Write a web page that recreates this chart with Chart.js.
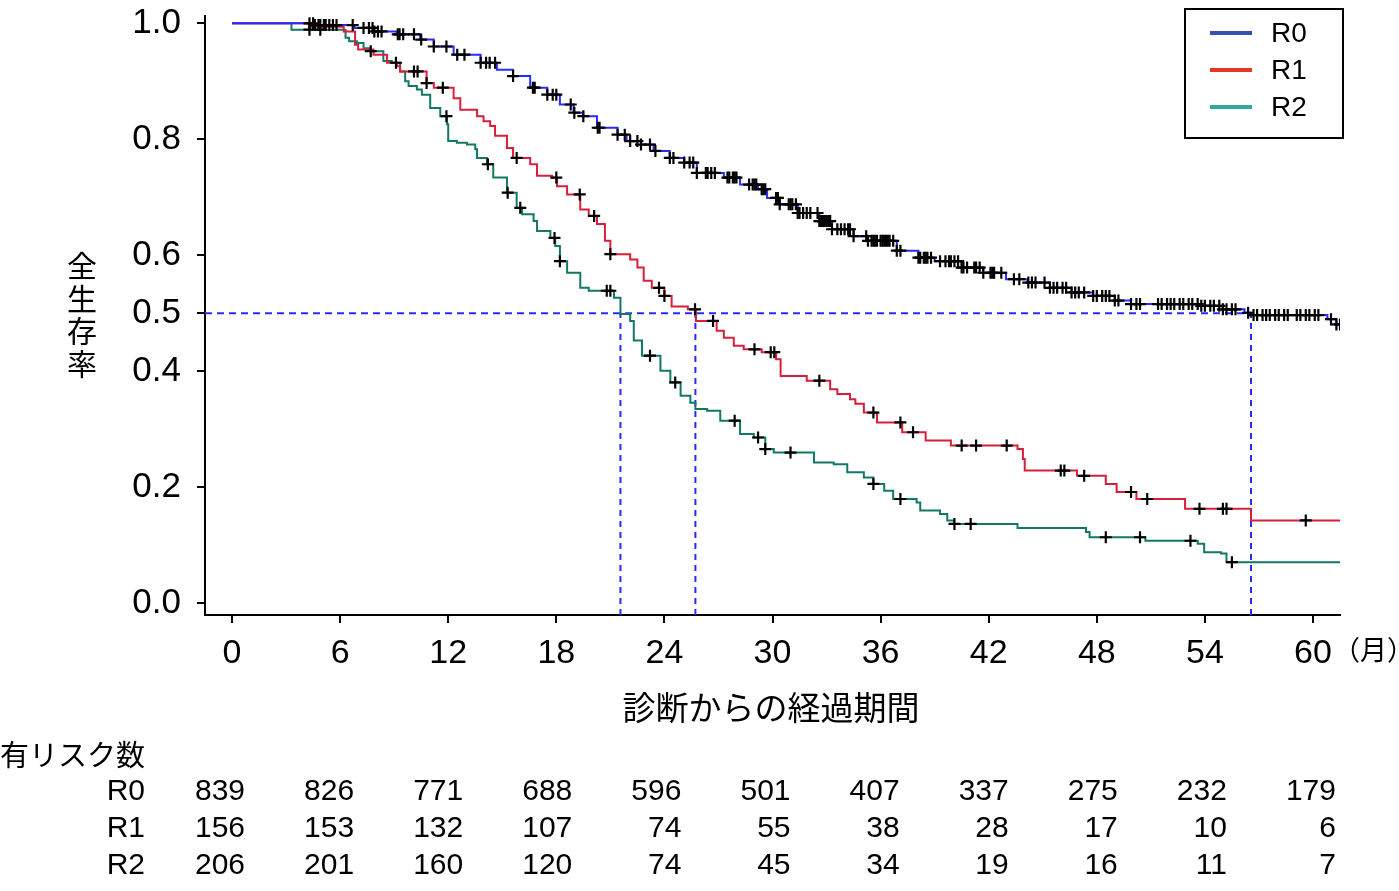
<!DOCTYPE html>
<html lang="ja">
<head>
<meta charset="utf-8">
<title>全生存率</title>
<script src="https://cdn.jsdelivr.net/npm/chart.js@4.4.1/dist/chart.umd.min.js"></script>
<style>
  html, body { margin: 0; padding: 0; background: #fff; }
  #wrap { width: 1399px; height: 891px; position: relative; }
</style>
</head>
<body>
<div id="wrap"><canvas id="kmChart"></canvas></div>
<script>
// --- データ ---
const groups = ['R0', 'R1', 'R2'];
const monthTicks = [0, 6, 12, 18, 24, 30, 36, 42, 48, 54, 60];
const survTicks = [0, 0.2, 0.4, 0.5, 0.6, 0.8, 1.0];
const followUpEnd = 61.5;

// 生存曲線（イベント時点, 生存率）
const r0Time = [0, 4.6, 6.8, 7.85, 9.15, 10.44, 11.2, 12.3, 13.8, 14.7, 15.6, 16.55, 17.5, 18.2, 18.96,
  19.5, 20.26, 21.4, 21.9, 22.7, 23.4, 24.3, 25.1, 25.8, 27.3, 28.2, 29.2, 29.7, 30.4, 31.4, 32.6,
  33.3, 34.5, 35.3, 36.9, 38.1, 39.0, 40.5, 41.7, 42.96, 44.15, 45.4, 46.6, 47.8, 49.0, 49.9, 53.8,
  55.0, 56.2, 56.56, 60.8, 61.3];
const r0Surv = [1.0, 0.997, 0.992, 0.986, 0.981, 0.972, 0.960, 0.946, 0.932, 0.920, 0.909, 0.889, 0.877, 0.860, 0.846,
  0.840, 0.820, 0.808, 0.797, 0.791, 0.780, 0.768, 0.760, 0.742, 0.734, 0.722, 0.714, 0.699, 0.688, 0.673, 0.659,
  0.645, 0.633, 0.625, 0.608, 0.596, 0.590, 0.579, 0.570, 0.559, 0.553, 0.544, 0.536, 0.530, 0.522, 0.516, 0.513,
  0.507, 0.501, 0.497, 0.490, 0.481];

const r1Time = [0, 4.3, 6.2, 6.83, 7.0, 7.85, 8.6, 9.15, 9.33, 10.8, 11.2, 12.3, 12.67, 13.6, 13.96, 14.33,
  14.6, 15.26, 15.6, 16.55, 16.93, 17.76, 18.04, 18.6, 19.33, 19.8, 20.26, 20.7, 21.0, 22.1, 22.5, 22.85,
  23.3, 24.0, 24.4, 25.3, 25.75, 26.9, 27.3, 27.85, 28.4, 29.4, 30.2, 30.45, 31.9, 33.2, 33.6, 34.3,
  34.6, 35.07, 35.8, 37.2, 38.5, 39.9, 43.6, 43.9, 44.0, 46.9, 48.5, 49.1, 50.2, 52.9, 56.56];
const r1Surv = [1.0, 0.994, 0.986, 0.963, 0.955, 0.946, 0.932, 0.926, 0.917, 0.897, 0.889, 0.871, 0.851, 0.840, 0.831, 0.823,
  0.806, 0.785, 0.768, 0.757, 0.737, 0.734, 0.719, 0.705, 0.679, 0.668, 0.654, 0.625, 0.602, 0.593, 0.579, 0.556,
  0.544, 0.530, 0.512, 0.507, 0.487, 0.470, 0.458, 0.444, 0.438, 0.433, 0.421, 0.392, 0.384, 0.369, 0.361, 0.352,
  0.344, 0.329, 0.312, 0.295, 0.281, 0.272, 0.266, 0.249, 0.229, 0.220, 0.206, 0.192, 0.180, 0.163, 0.143];

const r2Time = [0, 3.3, 6.3, 6.5, 6.93, 7.3, 7.67, 8.4, 8.87, 9.33, 9.61, 9.8, 10.26, 10.54, 11.0, 11.56,
  11.93, 12.0, 12.48, 13.04, 13.5, 13.6, 14.15, 14.5, 15.26, 15.8, 16.1, 16.74, 16.93, 17.67, 17.94, 18.2,
  18.6, 19.33, 19.8, 21.2, 21.56, 22.1, 22.3, 22.76, 23.78, 24.33, 24.9, 25.44, 25.72, 26.37, 27.1, 28.2,
  28.96, 29.6, 30.07, 32.3, 33.4, 34.15, 35.07, 35.6, 36.2, 36.7, 38.0, 38.2, 39.3, 39.7, 40.07, 43.6,
  47.4, 47.6, 50.7, 53.6, 53.96, 54.9, 55.2];
const r2Surv = [1.0, 0.989, 0.975, 0.969, 0.966, 0.957, 0.952, 0.935, 0.932, 0.917, 0.900, 0.892, 0.886, 0.877, 0.854, 0.840,
  0.826, 0.797, 0.794, 0.791, 0.783, 0.768, 0.757, 0.734, 0.708, 0.682, 0.671, 0.659, 0.642, 0.630, 0.616, 0.590,
  0.570, 0.544, 0.539, 0.527, 0.499, 0.487, 0.453, 0.427, 0.401, 0.381, 0.358, 0.346, 0.335, 0.332, 0.315, 0.292,
  0.286, 0.266, 0.260, 0.243, 0.240, 0.226, 0.217, 0.206, 0.194, 0.180, 0.174, 0.160, 0.154, 0.143, 0.137, 0.130,
  0.123, 0.114, 0.108, 0.103, 0.088, 0.086, 0.071];

// 打ち切り時点
const r0Censor = [4.3, 4.5, 4.6, 4.8, 4.9, 5.1, 5.2, 5.4, 5.6, 5.8, 6.7, 7.3, 7.6, 7.8, 7.9, 8.1, 8.3,
  9.2, 9.3, 9.5, 10.1, 10.5, 11.2, 11.9, 12.5, 12.9, 13.8, 14.1, 14.3, 14.6, 15.6, 16.7, 16.8,
  17.5, 17.8, 18.0, 18.8, 19.0, 19.5, 20.3, 20.4, 21.4, 21.8, 22.1, 22.5, 22.7, 23.2, 23.5,
  24.3, 24.5, 25.1, 25.4, 25.6, 25.8, 26.3, 26.4, 26.6, 26.8, 27.5, 27.6, 27.8, 27.9, 28.0,
  28.7, 28.9, 29.0, 29.1, 29.4, 29.5, 29.6, 30.2, 30.3, 30.4, 30.9, 31.0, 31.1, 31.3, 31.4,
  31.5, 31.7, 31.9, 32.1, 32.5, 32.6, 32.7, 32.8, 32.9, 33.0, 33.1, 33.2, 33.3, 33.6, 33.8,
  34.0, 34.2, 34.3, 34.5, 35.2, 35.3, 35.5, 35.6, 35.7, 35.8, 36.0, 36.1, 36.2, 36.3, 36.4,
  36.5, 36.7, 36.9, 37.1, 38.1, 38.2, 38.4, 38.5, 38.6, 38.8, 39.3, 39.6, 39.8, 39.9, 40.1,
  40.3, 40.5, 40.6, 40.8, 41.2, 41.3, 41.5, 41.7, 42.1, 42.2, 42.3, 42.7, 43.4, 43.7,
  44.2, 44.4, 44.6, 45.1, 45.4, 45.6, 45.8, 46.1, 46.3, 46.6, 46.8, 47.0, 47.3, 47.8, 48.0, 48.3,
  48.5, 48.7, 49.0, 49.2, 49.9, 50.2, 50.4, 51.4, 51.6, 51.9, 52.1, 52.3, 52.6, 52.8, 53.1, 53.3,
  53.6, 53.8, 54.0, 54.3, 54.5, 54.8, 55.0, 55.2, 55.5, 55.7, 56.4, 56.7, 56.9, 57.2, 57.4, 57.6,
  57.9, 58.1, 58.4, 58.6, 59.1, 59.3, 59.6, 59.8, 60.1, 60.3, 61.0, 61.3, 61.5];
const r1Censor = [10.1, 10.3, 10.8, 11.7, 15.8, 18.0, 19.3, 20.1, 21.0, 23.7, 24.0, 25.7, 26.7, 29.0,
  29.9, 30.1, 32.6, 35.6, 37.1, 37.8, 40.5, 41.3, 43.0, 46.0, 46.2, 47.3, 49.9, 50.8, 53.7, 55.0, 55.2, 59.6];
const r2Censor = [4.3, 4.9, 7.7, 9.1, 11.9, 14.2, 15.3, 16.0, 17.9, 18.2, 20.8, 21.0, 23.2, 24.6, 27.9,
  29.2, 29.6, 31.0, 35.6, 37.1, 40.1, 41.0, 48.5, 50.4, 53.2, 55.5];

// 生存期間中央値（R2, R1, R0）
const medianTime = [21.56, 25.72, 56.56];

// 有リスク数
const riskTime = monthTicks;
const riskR0 = [839, 826, 771, 688, 596, 501, 407, 337, 275, 232, 179];
const riskR1 = [156, 153, 132, 107, 74, 55, 38, 28, 17, 10, 6];
const riskR2 = [206, 201, 160, 120, 74, 45, 34, 19, 16, 11, 7];

const lineColors = ['#2b2bff', '#d61f3b', '#127866'];
const legendColors = ['#3352b0', '#e23a26', '#33a99b'];
const medianColor = '#2a2aff';

const latin = '"Liberation Sans", Arial, sans-serif';
const jp = '"Noto Sans CJK JP", "Noto Sans", sans-serif';

function survAt(times, survs, t) {
  let s = survs[0];
  for (let i = 0; i < times.length; i++) {
    if (times[i] <= t) s = survs[i];
  }
  return s;
}

function stepPoints(times, survs) {
  const pts = times.map((t, i) => ({x: t, y: survs[i]}));
  pts.push({x: followUpEnd, y: survs[survs.length - 1]});
  return pts;
}

function censorPoints(censor, times, survs) {
  return censor.map(t => ({x: t, y: survAt(times, survs, t)}));
}

const curves = [[r0Time, r0Surv, r0Censor], [r1Time, r1Surv, r1Censor], [r2Time, r2Surv, r2Censor]];

const datasets = [];

// 中央値の点線
datasets.push({
  label: 'median-h',
  data: [{x: -1.5, y: 0.5}, {x: Math.max(...medianTime), y: 0.5}],
  showLine: true, borderColor: medianColor, borderWidth: 2, borderDash: [7, 5],
  pointRadius: 0, order: 5
});
medianTime.forEach((m, i) => {
  datasets.push({
    label: 'median-v' + i,
    data: [{x: m, y: -0.02}, {x: m, y: 0.5}],
    showLine: true, borderColor: medianColor, borderWidth: 2, borderDash: [6, 5],
    pointRadius: 0, order: 5
  });
});

curves.forEach((c, i) => {
  datasets.push({
    label: groups[i],
    data: stepPoints(c[0], c[1]),
    showLine: true, stepped: true,
    borderColor: lineColors[i], borderWidth: 2,
    pointRadius: 0, order: 3
  });
});

curves.forEach((c, i) => {
  datasets.push({
    label: groups[i] + ' censor',
    data: censorPoints(c[2], c[0], c[1]),
    showLine: false, pointStyle: 'cross',
    pointRadius: 6, pointBorderWidth: 2.2,
    borderColor: '#000', backgroundColor: '#000', order: 1
  });
});

const extraText = {
  id: 'extraText',
  afterDraw(chart) {
    const ctx = chart.ctx;
    const xs = chart.scales.x;
    ctx.save();
    ctx.fillStyle = '#000';

    // 縦軸タイトル（縦書き）
    ctx.font = '30px ' + jp;
    ctx.textAlign = 'center';
    ctx.textBaseline = 'middle';
    const yTitle = '全生存率';
    for (let i = 0; i < yTitle.length; i++) {
      ctx.fillText(yTitle[i], 82, 266 + i * 32.5);
    }

    // 横軸タイトル
    ctx.font = '33px ' + jp;
    ctx.fillText('診断からの経過期間', 771, 707);

    // 単位
    ctx.font = '27px ' + jp;
    ctx.textAlign = 'left';
    ctx.fillText('（月）', 1333, 650);

    // 凡例
    ctx.strokeStyle = '#000';
    ctx.lineWidth = 2;
    ctx.strokeRect(1185, 9, 158, 129);
    ctx.font = '28px ' + latin;
    groups.forEach((g, i) => {
      const y = 33 + i * 37;
      ctx.strokeStyle = legendColors[i];
      ctx.lineWidth = 4;
      ctx.beginPath();
      ctx.moveTo(1210, y);
      ctx.lineTo(1252, y);
      ctx.stroke();
      ctx.fillText(g, 1271, y + 1);
    });

    // 有リスク数
    ctx.font = '29px ' + jp;
    ctx.textAlign = 'left';
    ctx.fillText('有リスク数', 0, 755);
    const rows = [riskR0, riskR1, riskR2];
    ctx.font = '30px ' + latin;
    rows.forEach((row, r) => {
      const y = 792 + r * 37;
      ctx.textAlign = 'right';
      ctx.fillText(groups[r], 145, y);
      row.forEach((n, i) => {
        ctx.fillText(String(n), xs.getPixelForValue(riskTime[i]) + 13 + riskTime[i] / 6, y);
      });
    });
    ctx.restore();
  }
};

new Chart(document.getElementById('kmChart'), {
  type: 'scatter',
  data: {datasets: datasets},
  options: {
    responsive: true,
    maintainAspectRatio: false,
    animation: false,
    layout: {padding: {left: 0, top: 0, right: 59, bottom: 0}},
    plugins: {
      legend: {display: false},
      tooltip: {enabled: false}
    },
    scales: {
      x: {
        type: 'linear',
        min: -1.5, max: followUpEnd,
        afterFit: s => { s.height = 276; },
        afterBuildTicks: s => { s.ticks = monthTicks.map(v => ({value: v})); },
        border: {display: true, color: '#000', width: 2},
        grid: {drawOnChartArea: false, drawTicks: true, tickLength: 8, color: '#000', lineWidth: 2},
        ticks: {
          color: '#000', padding: 10, maxRotation: 0, autoSkip: false,
          font: {family: latin, size: 34},
          callback: v => String(v)
        }
      },
      y: {
        type: 'linear',
        min: -0.02, max: 1.012,
        afterFit: s => { s.width = 205; },
        afterBuildTicks: s => { s.ticks = survTicks.map(v => ({value: v})); },
        border: {display: true, color: '#000', width: 2},
        grid: {drawOnChartArea: false, drawTicks: true, tickLength: 8, color: '#000', lineWidth: 2},
        ticks: {
          color: '#000', padding: 16, autoSkip: false,
          font: {family: latin, size: 35, lineHeight: 0.02},
          callback: v => Number(v).toFixed(1)
        }
      }
    }
  },
  plugins: [extraText]
});
</script>
</body>
</html>
